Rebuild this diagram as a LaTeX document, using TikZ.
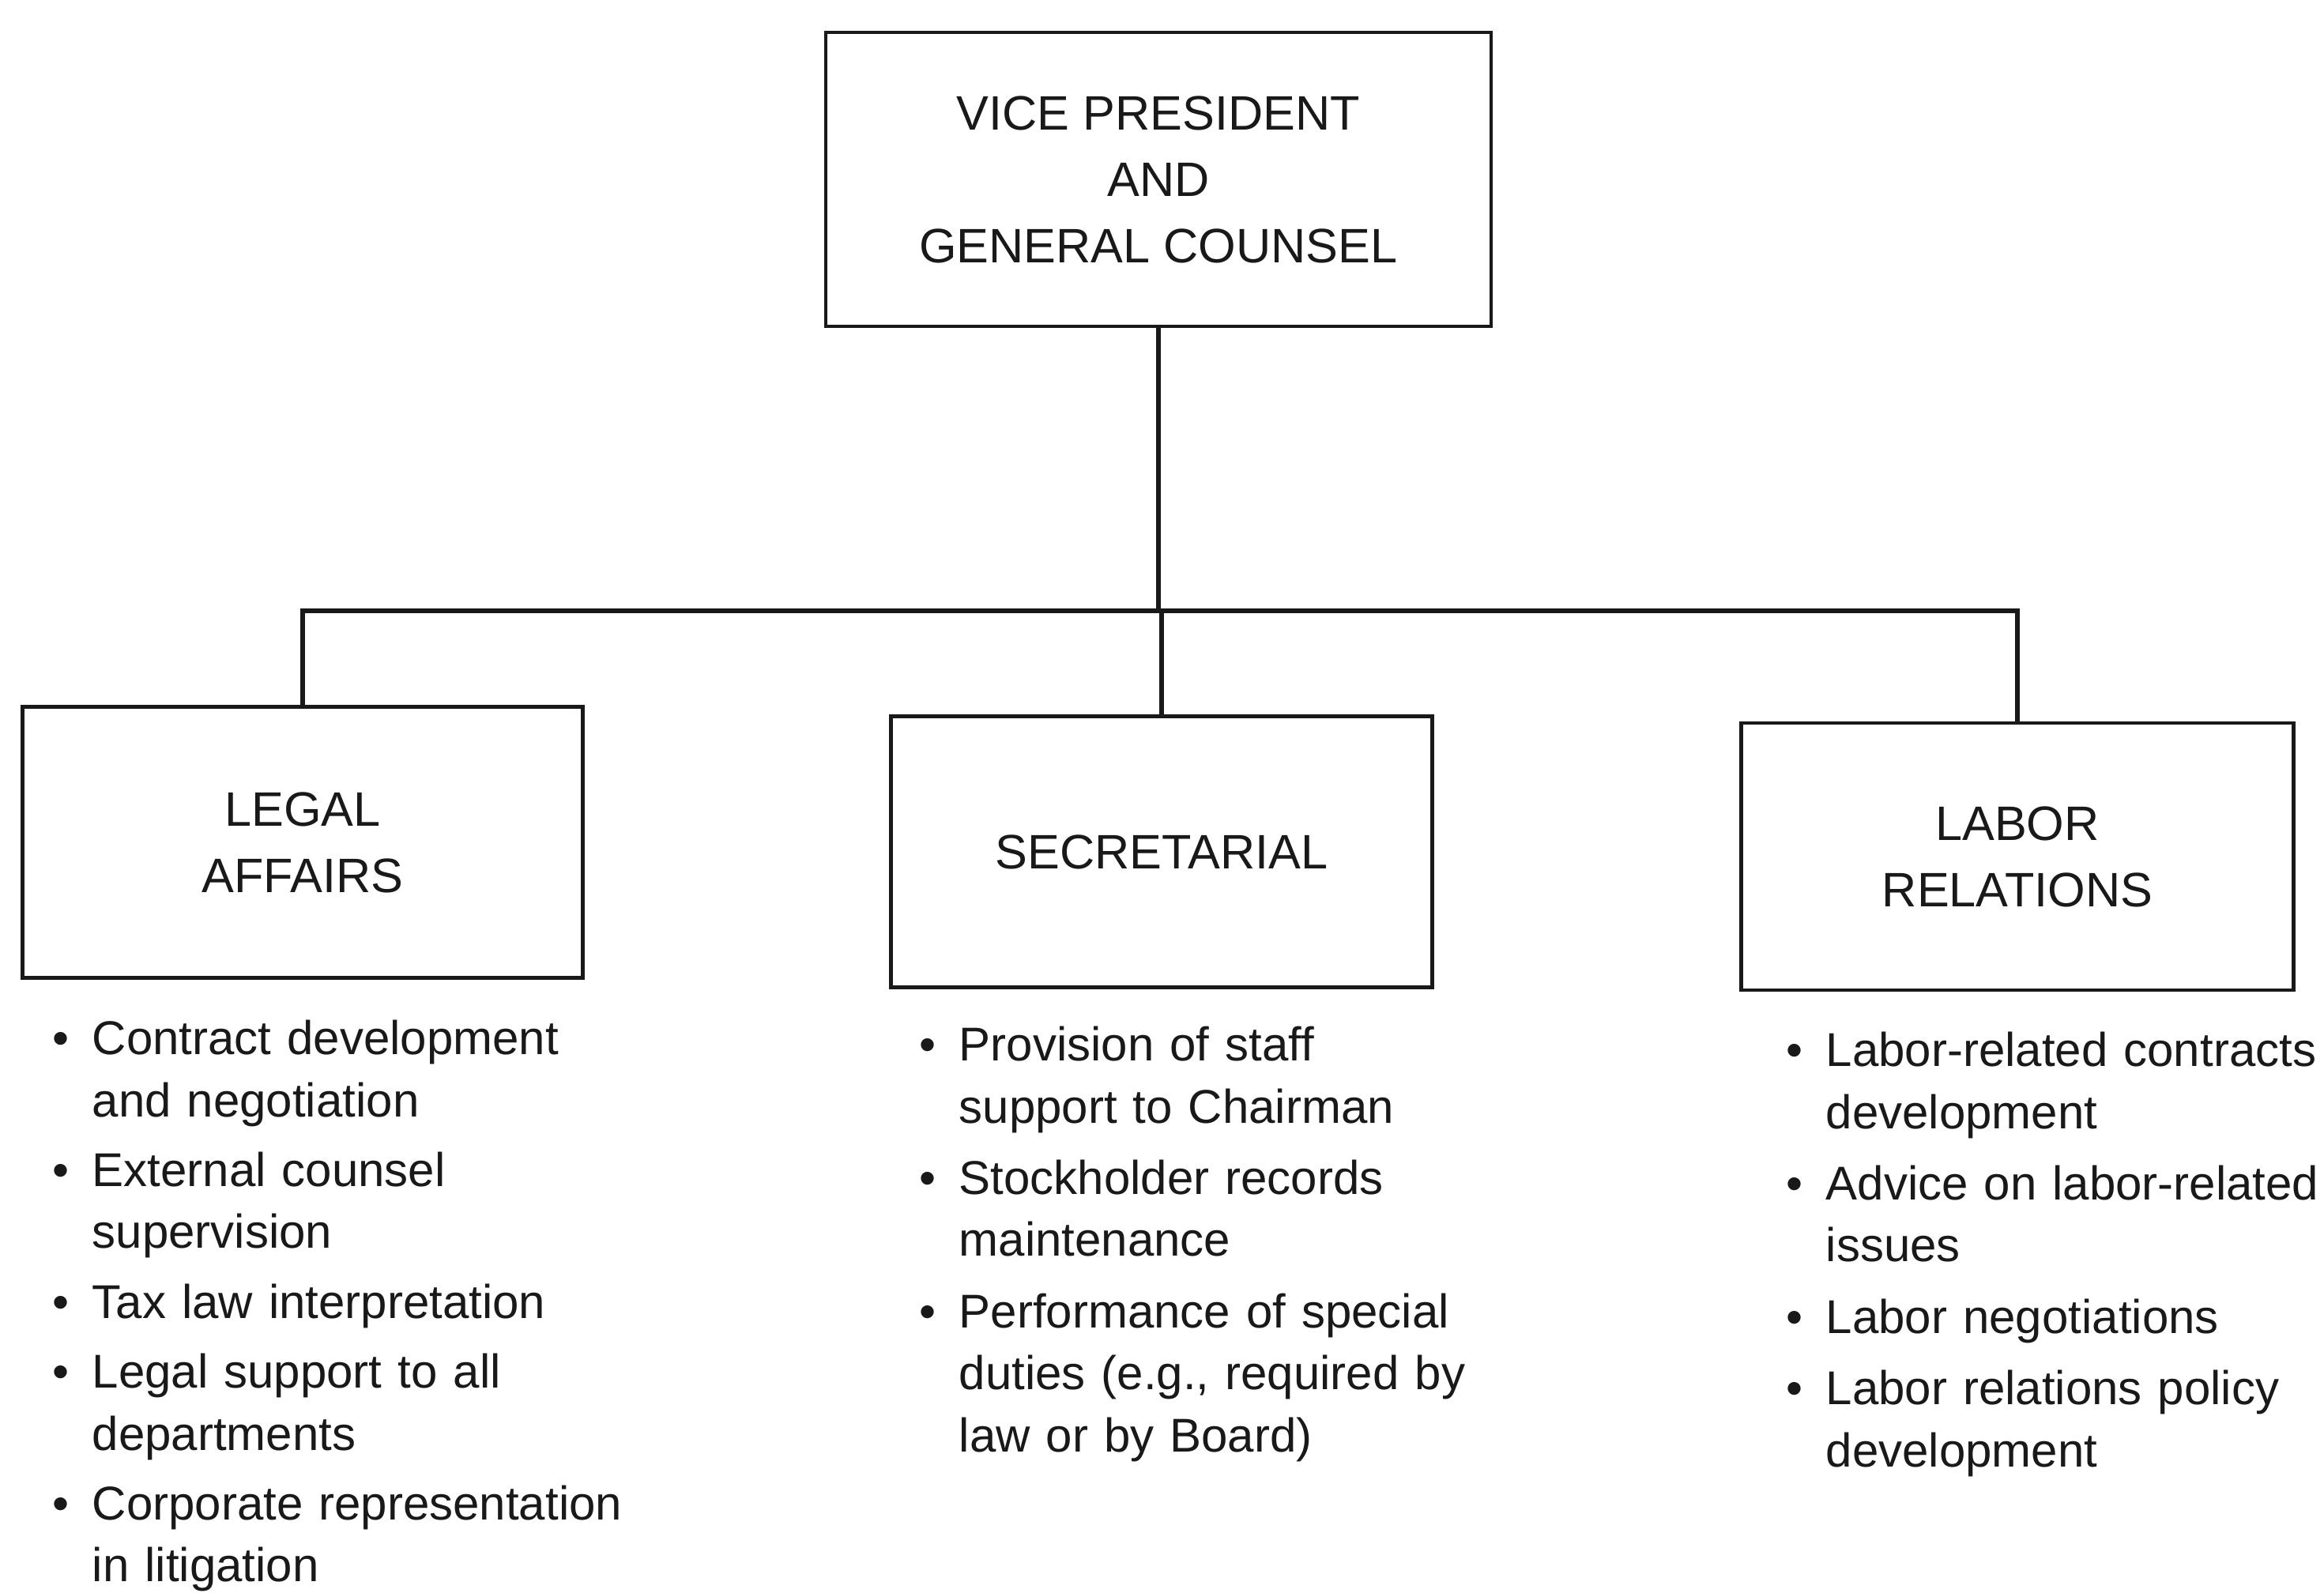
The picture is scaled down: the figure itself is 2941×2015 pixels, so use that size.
\documentclass[tikz,border=0pt]{standalone}
\usepackage{fontspec}
\setmainfont{Liberation Sans}

% one bulleted duty, continuation lines hang under the text
\newcommand\dutyitem[1]{\hangindent=12.5pt\hangafter=1\noindent\strut\makebox[12.5pt][l]{\textbullet}#1\par}

\begin{document}
\begin{tikzpicture}[x=0.25pt,y=-0.25pt,
  unitbox/.style={draw=black!90, line width=1.1pt, align=center, inner sep=0pt,
    font=\fontsize{15.3}{21}\selectfont, text=black!90},
  dutylist/.style={anchor=north west, inner sep=0pt, text width=195pt, align=left,
    font=\fontsize{15}{19.6}\selectfont, text=black!90},
  link/.style={line width=1.5pt, draw=black!90}]

\fill[white] (0,0) rectangle (2941,2015);
\useasboundingbox (0,0) rectangle (2941,2015);

% head of the department
\node[unitbox, minimum width=210.5pt, minimum height=93pt] (vp) at (1466,227)
  {VICE PRESIDENT\\AND\\GENERAL COUNSEL};

% the three units
\node[unitbox, minimum width=177.25pt, minimum height=85.75pt] (legal) at (383,1066)
  {LEGAL\\AFFAIRS};
\node[unitbox, minimum width=171.25pt, minimum height=85.75pt] (sec) at (1470,1078)
  {SECRETARIAL};
\node[unitbox, minimum width=174.75pt, minimum height=84.5pt] (labor) at (2553,1084)
  {LABOR\\RELATIONS};

% reporting lines
\coordinate (bus) at (1466,773);
\draw[link] (vp.south) -- (vp.south |- bus);
\draw[link] (legal.north) |- (bus) -| (labor.north);
\draw[link] (sec.north) -- (sec.north |- bus);

% duties of each unit
\node[dutylist] (legalduties) at (66,1279) {\setlength\parskip{2.5pt}%
  \dutyitem{Contract development\newline and negotiation}
  \dutyitem{External counsel\newline supervision}
  \dutyitem{Tax law interpretation}
  \dutyitem{Legal support to all\newline departments}
  \dutyitem{Corporate representation\newline in litigation}};

\node[dutylist] (secduties) at (1163,1287) {\setlength\parskip{3pt}%
  \dutyitem{Provision of staff\newline support to Chairman}
  \dutyitem{Stockholder records\newline maintenance}
  \dutyitem{Performance of special\newline duties (e.g., required by\newline law or by Board)}};

\node[dutylist] (laborduties) at (2260,1294) {\setlength\parskip{3pt}%
  \dutyitem{Labor-related contracts\newline development}
  \dutyitem{Advice on labor-related\newline issues}
  \dutyitem{Labor negotiations}
  \dutyitem{Labor relations policy\newline development}};

\end{tikzpicture}
\end{document}
